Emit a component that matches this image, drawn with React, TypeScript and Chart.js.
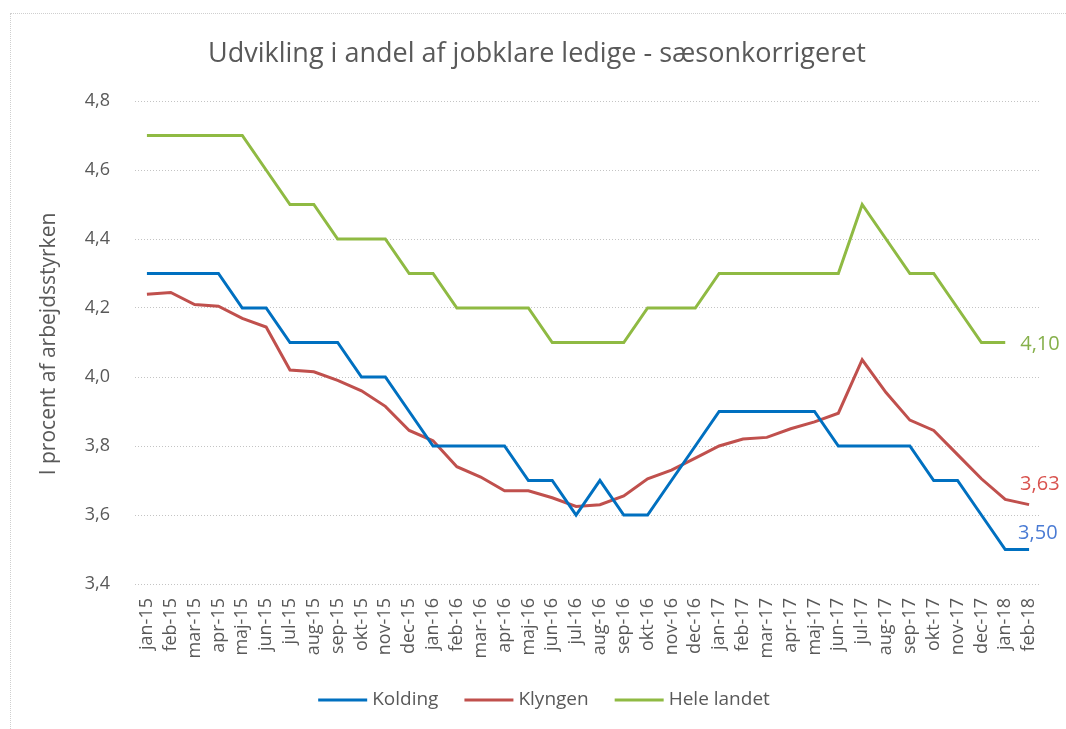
import React, { useEffect, useRef } from "react";
import { Chart, registerables } from "chart.js";

Chart.register(...registerables);

const months = [
  "jan-15", "feb-15", "mar-15", "apr-15", "maj-15", "jun-15", "jul-15", "aug-15", "sep-15", "okt-15", "nov-15", "dec-15",
  "jan-16", "feb-16", "mar-16", "apr-16", "maj-16", "jun-16", "jul-16", "aug-16", "sep-16", "okt-16", "nov-16", "dec-16",
  "jan-17", "feb-17", "mar-17", "apr-17", "maj-17", "jun-17", "jul-17", "aug-17", "sep-17", "okt-17", "nov-17", "dec-17",
  "jan-18", "feb-18",
];

const kolding = [
  4.3, 4.3, 4.3, 4.3, 4.2, 4.2, 4.1, 4.1, 4.1, 4.0, 4.0, 3.9,
  3.8, 3.8, 3.8, 3.8, 3.7, 3.7, 3.6, 3.7, 3.6, 3.6, 3.7, 3.8,
  3.9, 3.9, 3.9, 3.9, 3.9, 3.8, 3.8, 3.8, 3.8, 3.7, 3.7, 3.6,
  3.5, 3.5,
];

const klyngen = [
  4.24, 4.245, 4.21, 4.205, 4.17, 4.145, 4.02, 4.015, 3.99, 3.96, 3.915, 3.845,
  3.815, 3.74, 3.71, 3.67, 3.67, 3.65, 3.625, 3.63, 3.655, 3.705, 3.73, 3.765,
  3.8, 3.82, 3.825, 3.85, 3.87, 3.895, 4.05, 3.955, 3.875, 3.845, 3.775, 3.705,
  3.645, 3.63,
];

const heleLandet = [
  4.7, 4.7, 4.7, 4.7, 4.7, 4.6, 4.5, 4.5, 4.4, 4.4, 4.4, 4.3,
  4.3, 4.2, 4.2, 4.2, 4.2, 4.1, 4.1, 4.1, 4.1, 4.2, 4.2, 4.2,
  4.3, 4.3, 4.3, 4.3, 4.3, 4.3, 4.5, 4.4, 4.3, 4.3, 4.2, 4.1,
  4.1, null,
];

const seriesNames = ["Kolding", "Klyngen", "Hele landet"];
const endLabels = ["3,50", "3,63", "4,10"];

const TITLE = "Udvikling i andel af jobklare ledige - sæsonkorrigeret";
const Y_TITLE = "I procent af arbejdsstyrken";
const Y_MIN = 3.4;
const Y_MAX = 4.8;
const Y_STEP = 0.2;

const lineColors = ["#0070c0", "#c0504d", "#8fba43"];
const labelColors = ["#4a7bd4", "#d9534f", "#86b04b"];
const labelOffsets = [
  [-11, -16],
  [-9, -20],
  [15, 2],
];
const TEXT = "#595959";
const FONT = "'Open Sans', 'Noto Sans', sans-serif";

const overlayPlugin = {
  id: "overlay",
  afterDraw(chart: any) {
    const ctx = chart.ctx as CanvasRenderingContext2D;
    ctx.save();

    // Title
    ctx.fillStyle = TEXT;
    ctx.font = `27px ${FONT}`;
    ctx.textAlign = "center";
    ctx.textBaseline = "alphabetic";
    ctx.fillText(TITLE, 537, 62);

    // Y axis title
    ctx.save();
    ctx.translate(49, 344);
    ctx.rotate(-Math.PI / 2);
    ctx.font = `21px ${FONT}`;
    ctx.textAlign = "center";
    ctx.textBaseline = "middle";
    ctx.fillText(Y_TITLE, 0, 0);
    ctx.restore();

    // End labels
    ctx.font = `20px ${FONT}`;
    ctx.textAlign = "left";
    ctx.textBaseline = "middle";
    chart.data.datasets.forEach((ds: any, i: number) => {
      const meta = chart.getDatasetMeta(i);
      let idx = ds.data.length - 1;
      while (idx >= 0 && ds.data[idx] == null) idx--;
      const pt = meta.data[idx];
      if (!pt) return;
      ctx.fillStyle = labelColors[i];
      ctx.fillText(endLabels[i], pt.x + labelOffsets[i][0], pt.y + labelOffsets[i][1]);
    });

    // Legend
    ctx.font = `19px ${FONT}`;
    const lineLen = 49;
    const gapLT = 5;
    const gapItems = 26;
    const widths = seriesNames.map((n) => ctx.measureText(n).width);
    const total =
      widths.reduce((a, w) => a + lineLen + gapLT + w, 0) + gapItems * (seriesNames.length - 1);
    let x = 544 - total / 2;
    const ly = 700;
    seriesNames.forEach((name, i) => {
      ctx.strokeStyle = lineColors[i];
      ctx.lineWidth = 3;
      ctx.beginPath();
      ctx.moveTo(x, ly);
      ctx.lineTo(x + lineLen, ly);
      ctx.stroke();
      x += lineLen + gapLT;
      ctx.fillStyle = TEXT;
      ctx.textAlign = "left";
      ctx.textBaseline = "middle";
      ctx.fillText(name, x, ly);
      x += widths[i] + gapItems;
    });

    ctx.restore();
  },
};

export default function App() {
  const canvasRef = useRef<HTMLCanvasElement | null>(null);

  useEffect(() => {
    if (!canvasRef.current) return;
    const series = [kolding, klyngen, heleLandet];
    const chart = new Chart(canvasRef.current, {
      type: "line",
      data: {
        labels: months,
        datasets: series.map((d, i) => ({
          label: seriesNames[i],
          data: d,
          borderColor: lineColors[i],
          backgroundColor: lineColors[i],
          borderWidth: 3,
          pointRadius: 0,
          tension: 0,
          fill: false,
          spanGaps: false,
        })),
      },
      options: {
        animation: false,
        responsive: false,
        layout: { padding: { top: 101, bottom: 65, left: 0, right: 25 } },
        plugins: {
          legend: { display: false },
          title: { display: false },
          tooltip: { enabled: false },
        },
        scales: {
          x: {
            offset: true,
            grid: { display: false },
            border: { display: false },
            ticks: {
              autoSkip: false,
              minRotation: 90,
              maxRotation: 90,
              padding: 6,
              color: TEXT,
              font: { family: FONT, size: 18 },
            },
            afterFit: (scale: any) => {
              scale.height = 80;
            },
          },
          y: {
            min: Y_MIN,
            max: Y_MAX,
            grid: { color: "#c4c4c4", lineWidth: 1, drawTicks: false },
            border: { display: false, dash: [1, 2] },
            ticks: {
              stepSize: Y_STEP,
              padding: 25,
              color: TEXT,
              font: { family: FONT, size: 18 },
              callback: (v: any) => Number(v).toFixed(1).replace(".", ","),
            },
            afterFit: (scale: any) => {
              scale.width = 135;
            },
          },
        },
      },
      plugins: [overlayPlugin],
    });
    return () => chart.destroy();
  }, []);

  return (
    <div style={{ position: "absolute", left: 0, top: 0, width: 1066, height: 729, background: "#fff" }}>
      <div
        style={{
          position: "absolute",
          left: 10,
          top: 13,
          right: 0,
          bottom: 0,
          borderTop: "1px dotted #cfcfcf",
          borderLeft: "1px dotted #cfcfcf",
        }}
      />
      <canvas ref={canvasRef} width={1066} height={729} style={{ position: "absolute", left: 0, top: 0 }} />
    </div>
  );
}
